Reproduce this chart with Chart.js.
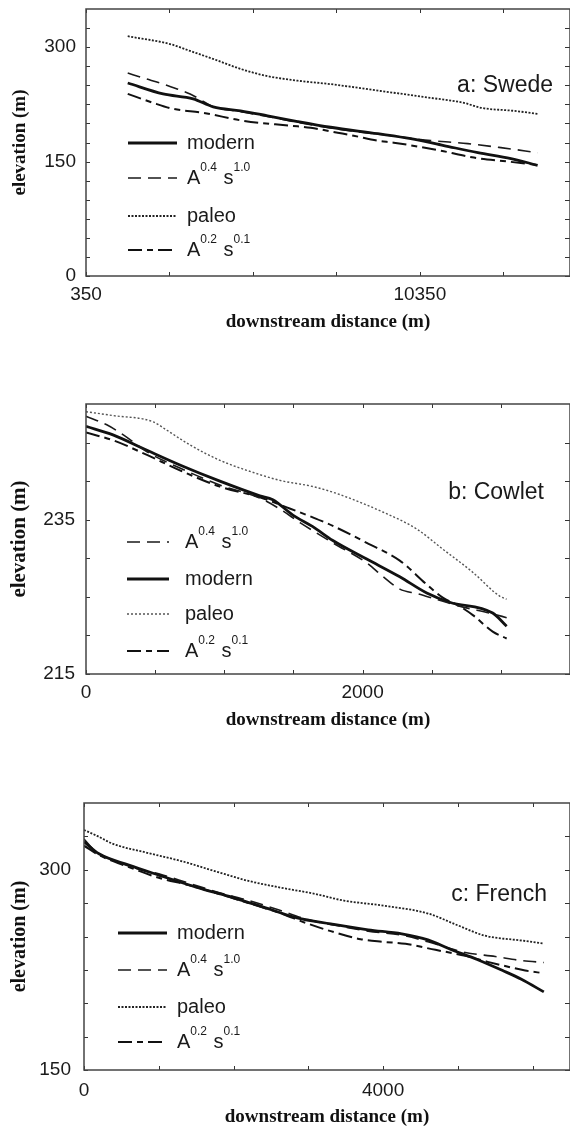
<!DOCTYPE html>
<html>
<head>
<meta charset="utf-8">
<script src="https://cdn.jsdelivr.net/npm/chart.js@4.4.1/dist/chart.umd.min.js"></script>
<style>
  html, body { margin: 0; padding: 0; background: #fff; width: 570px; height: 1127px; overflow: hidden; }
  canvas { position: absolute; left: 0; }
</style>
</head>
<body>
<canvas id="swede" width="570" height="340" style="top:0px"></canvas>
<canvas id="cowlet" width="570" height="360" style="top:370px"></canvas>
<canvas id="french" width="570" height="347" style="top:780px"></canvas>
<script>
// ---- a: Swede ----
const swedeXTicks = [350, 2850, 5350, 7850, 10350, 12850];
const swedeXLabels = [350, 10350];
const swedeYTicks = [0, 25, 50, 75, 100, 125, 150, 175, 200, 225, 250, 275, 300, 325];
const swedeYLabels = [0, 150, 300];

const swedeModernDist = [1600, 2660, 3560, 4160, 4980, 5790, 6690, 7680, 9090, 10080, 11070, 12090, 13080, 13880];
const swedeModernElev = [253, 238.7, 232.2, 221.7, 216.5, 210, 202.5, 195, 186.5, 180, 171, 161.7, 154, 145];
const swedeA04Dist = [1600, 2060, 2660, 3080, 3470, 4160, 4980, 5790, 6690, 7680, 8500, 9400, 10080, 10680, 11790, 12780, 13880];
const swedeA04Elev = [266, 259.6, 251.7, 245.2, 238.7, 222, 215.5, 209, 201.5, 194, 189, 184.5, 180.5, 177.5, 173.5, 168.3, 161.7];
const swedePaleoDist = [1600, 2870, 3470, 4160, 4980, 5790, 6690, 7680, 9180, 10680, 11670, 12180, 13170, 13880];
const swedePaleoElev = [314.3, 304, 295, 284.5, 271.5, 262, 256, 251.5, 242.5, 233.5, 227, 220.5, 216.5, 212.6];
const swedeA02Dist = [1600, 2360, 2960, 3860, 5060, 6480, 7080, 7890, 8370, 9090, 9570, 10980, 11970, 13000, 13880];
const swedeA02Elev = [238.7, 227, 219.1, 213.9, 203.5, 197, 194.3, 187.8, 183.9, 177.4, 174.8, 164.3, 155.2, 150, 145.5];

// ---- b: Cowlet ----
const cowletXTicks = [0, 500, 1000, 1500, 2000, 2500, 3000];
const cowletXLabels = [0, 2000];
const cowletYTicks = [215, 220, 225, 230, 235, 240, 245];
const cowletYLabels = [215, 235];

const cowletModernDist = [0, 195, 441, 679, 968, 1257, 1351, 1496, 1640, 1785, 2030, 2269, 2464, 2630, 2941, 3042];
const cowletModernElev = [247.1, 246.0, 244.0, 242.1, 240.0, 238.1, 237.6, 235.6, 234.1, 232.3, 229.9, 227.6, 225.5, 224.3, 222.9, 221.2];
const cowletA04Dist = [0, 150, 270, 441, 679, 968, 1257, 1400, 1550, 1785, 2030, 2150, 2269, 2400, 2530, 2700, 2941, 3042];
const cowletA04Elev = [248.4, 247.3, 246.0, 243.8, 241.7, 239.5, 237.8, 236.4, 234.6, 232.0, 229.4, 227.6, 226.0, 225.4, 224.7, 223.8, 222.8, 222.3];
const cowletPaleoDist = [0, 195, 484, 585, 751, 968, 1163, 1402, 1640, 1813, 2146, 2391, 2579, 2796, 2991, 3042];
const cowletPaleoElev = [249.0, 248.5, 247.7, 246.6, 244.7, 242.7, 241.4, 240.1, 239.3, 238.4, 236.0, 233.8, 231.2, 228.2, 225.1, 224.7];
const cowletA02Dist = [0, 195, 441, 679, 968, 1257, 1452, 1640, 1785, 2030, 2269, 2464, 2580, 2700, 2800, 2941, 3042];
const cowletA02Elev = [246.3, 245.3, 243.4, 241.4, 239.3, 237.9, 236.6, 235.3, 234.2, 232.0, 229.7, 226.6, 224.9, 223.8, 222.6, 220.5, 219.6];

// ---- c: French ----
const frenchXTicks = [0, 1000, 2000, 3000, 4000, 5000, 6000];
const frenchXLabels = [0, 4000];
const frenchYTicks = [150, 175, 200, 225, 250, 275, 300, 325];
const frenchYLabels = [150, 300];

const frenchModernDist = [0, 200, 600, 1000, 1500, 2000, 2400, 2850, 3300, 3800, 4250, 4600, 4900, 5250, 5600, 5850, 6150];
const frenchModernElev = [321, 312, 303.5, 296, 287, 279, 272, 264, 259.5, 255, 252, 247.5, 240.5, 233, 224.5, 218, 208.5];
const frenchA04Dist = [0, 150, 400, 700, 1000, 1400, 1800, 2200, 2600, 3000, 3400, 3800, 4250, 4600, 4900, 5100, 5500, 5850, 6150];
const frenchA04Elev = [323, 314, 307, 301, 297, 290, 283, 277, 270, 262.5, 258, 254, 251, 246, 241, 238, 235, 232, 230.5];
const frenchPaleoDist = [0, 174, 389, 845, 1288, 1731, 2187, 2630, 3073, 3476, 4012, 4603, 5006, 5355, 5851, 6146];
const frenchPaleoElev = [329.8, 325.4, 319.4, 312.7, 306.7, 299.3, 291.8, 286.6, 282.1, 276.9, 273.1, 267.2, 258.2, 250.7, 247.0, 244.8];
const frenchA02Dist = [0, 200, 600, 1000, 1400, 1800, 2200, 2600, 3000, 3300, 3700, 4000, 4300, 4700, 5100, 5400, 5700, 5900, 6150];
const frenchA02Elev = [318, 311, 302, 294, 288.5, 282, 275, 268, 259.5, 254, 248, 246, 244.5, 240, 235.5, 231, 227, 224.5, 222.5];

Chart.defaults.font.family = "'Liberation Sans', Arial, sans-serif";
Chart.defaults.color = '#1a1a1a';

const serif = "'Liberation Serif', 'Times New Roman', serif";

const lineStyles = {
  modern: { borderColor: '#111', borderWidth: 2.8, borderDash: [] },
  a04: { borderColor: '#1a1a1a', borderWidth: 1.6, borderDash: [13, 7] },
  paleo: { borderColor: '#222', borderWidth: 1.8, borderDash: [2, 1.5] },
  paleoLight: { borderColor: '#555', borderWidth: 1.4, borderDash: [2, 2] },
  a02: { borderColor: '#111', borderWidth: 2, borderDash: [14, 5, 6, 5] },
};

function pts(xs, ys) {
  return xs.map((x, i) => ({ x: x, y: ys[i] }));
}

// label like "A^0.4 s^1.0" -> normal text with raised superscripts
function drawLegendText(ctx, label, x, y) {
  const parts = label.split(/(\^[0-9.]+)/).filter(s => s.length);
  let cx = x;
  parts.forEach(part => {
    if (part[0] === '^') {
      ctx.font = '12px "Liberation Sans", Arial, sans-serif';
      ctx.fillText(part.slice(1), cx, y - 10);
      cx += ctx.measureText(part.slice(1)).width + 1;
    } else {
      ctx.font = '20px "Liberation Sans", Arial, sans-serif';
      ctx.fillText(part, cx, y);
      cx += ctx.measureText(part).width;
    }
  });
}

const frameAndLegend = {
  id: 'frameAndLegend',
  afterDatasetsDraw(chart, args, opts) {
    const ctx = chart.ctx;
    const a = chart.chartArea;
    const xs = chart.scales.x, ys = chart.scales.y;
    ctx.save();
    ctx.strokeStyle = '#333';
    ctx.lineWidth = 1;
    ctx.beginPath();
    xs.ticks.forEach(t => {
      const px = Math.round(xs.getPixelForValue(t.value)) + 0.5;
      ctx.moveTo(px, a.bottom); ctx.lineTo(px, a.bottom - 4);
      ctx.moveTo(px, a.top); ctx.lineTo(px, a.top + 4);
    });
    ys.ticks.forEach(t => {
      const py = Math.round(ys.getPixelForValue(t.value)) + 0.5;
      ctx.moveTo(a.left, py); ctx.lineTo(a.left + 4, py);
      ctx.moveTo(a.right, py); ctx.lineTo(a.right - 5, py);
    });
    ctx.stroke();

    ctx.strokeStyle = '#444';
    ctx.lineWidth = 1.5;
    ctx.strokeRect(a.left, a.top, a.right - a.left, a.bottom - a.top);

    // panel name
    ctx.fillStyle = '#1a1a1a';
    ctx.font = '23px "Liberation Sans", Arial, sans-serif';
    ctx.textAlign = 'right';
    ctx.textBaseline = 'middle';
    ctx.fillText(opts.name, opts.nameX, opts.nameY);

    // legend, in dataset order
    ctx.textAlign = 'left';
    chart.data.datasets.forEach((ds, i) => {
      const y = opts.rows[i];
      ctx.setLineDash(ds.borderDash || []);
      ctx.lineWidth = ds.borderWidth;
      ctx.strokeStyle = ds.borderColor;
      ctx.beginPath();
      ctx.moveTo(opts.lineX1, y);
      ctx.lineTo(opts.lineX2, y);
      ctx.stroke();
      ctx.setLineDash([]);
      drawLegendText(ctx, ds.label, opts.textX, y);
    });
    ctx.restore();
  }
};

function makePanel(id, p) {
  return new Chart(document.getElementById(id), {
    type: 'line',
    data: {
      datasets: p.series.map(s => Object.assign({
        label: s.label,
        data: pts(s.x, s.y),
        pointRadius: 0,
        fill: false,
        cubicInterpolationMode: 'monotone',
      }, lineStyles[s.kind]))
    },
    options: {
      responsive: false,
      animation: false,
      layout: { padding: { top: p.top, right: 0, bottom: 0, left: 0 } },
      plugins: {
        legend: { display: false },
        tooltip: { enabled: false },
        frameAndLegend: p.decor,
      },
      scales: {
        x: {
          type: 'linear',
          min: p.xMin,
          max: p.xMax,
          afterBuildTicks: s => { s.ticks = p.xTicks.map(v => ({ value: v })); },
          afterFit: s => {
            s.height = p.height - p.bottom;
            s.paddingLeft = 0; s.paddingRight = 0;
          },
          grid: { display: false, drawTicks: false },
          border: { display: false },
          ticks: {
            autoSkip: false, maxRotation: 0, padding: p.xPad,
            font: { size: 19 },
            callback: v => p.xLabels.includes(v) ? String(v) : '',
          },
          title: {
            display: true, text: 'downstream distance (m)', color: '#111',
            font: { family: serif, size: 19, weight: 'bold', lineHeight: 1 },
            padding: { top: 0, bottom: p.xTitlePad },
          },
        },
        y: {
          type: 'linear',
          min: p.yMin,
          max: p.yMax,
          afterBuildTicks: s => { s.ticks = p.yTicks.map(v => ({ value: v })); },
          afterFit: s => {
            s.width = p.left;
            s.paddingTop = 0; s.paddingBottom = 0;
          },
          grid: { display: false, drawTicks: false },
          border: { display: false },
          ticks: {
            autoSkip: false, padding: p.yPad,
            font: { size: 19 },
            callback: v => p.yLabels.includes(v) ? String(v) : '',
          },
          title: {
            display: true, text: 'elevation (m)', color: '#111',
            font: { family: serif, size: p.yTitleSize, weight: 'bold', lineHeight: 1 },
            padding: { top: 20 - p.yTitleSize / 2, bottom: 0 },
          },
        },
      },
    },
    plugins: [frameAndLegend],
  });
}

makePanel('swede', {
  height: 340, top: 9, bottom: 276, left: 86,
  xMin: 350, xMax: 14850, yMin: 0, yMax: 350,
  xTicks: swedeXTicks, xLabels: swedeXLabels, yTicks: swedeYTicks, yLabels: swedeYLabels,
  xPad: 7, yPad: 10, xTitlePad: 8.5, yTitleSize: 19,
  series: [
    { label: 'modern', kind: 'modern', x: swedeModernDist, y: swedeModernElev },
    { label: 'A^0.4 s^1.0', kind: 'a04', x: swedeA04Dist, y: swedeA04Elev },
    { label: 'paleo', kind: 'paleo', x: swedePaleoDist, y: swedePaleoElev },
    { label: 'A^0.2 s^0.1', kind: 'a02', x: swedeA02Dist, y: swedeA02Elev },
  ],
  decor: { name: 'a: Swede', nameX: 553, nameY: 86, lineX1: 128, lineX2: 177, textX: 187, rows: [143, 178, 216, 250] },
});

makePanel('cowlet', {
  height: 360, top: 34, bottom: 304, left: 86,
  xMin: 0, xMax: 3500, yMin: 215, yMax: 250,
  xTicks: cowletXTicks, xLabels: cowletXLabels, yTicks: cowletYTicks, yLabels: cowletYLabels,
  xPad: 7, yPad: 11, xTitlePad: 0.5, yTitleSize: 21,
  series: [
    { label: 'A^0.4 s^1.0', kind: 'a04', x: cowletA04Dist, y: cowletA04Elev },
    { label: 'modern', kind: 'modern', x: cowletModernDist, y: cowletModernElev },
    { label: 'paleo', kind: 'paleoLight', x: cowletPaleoDist, y: cowletPaleoElev },
    { label: 'A^0.2 s^0.1', kind: 'a02', x: cowletA02Dist, y: cowletA02Elev },
  ],
  decor: { name: 'b: Cowlet', nameX: 544, nameY: 123, lineX1: 127, lineX2: 169, textX: 185, rows: [172, 209, 244, 281] },
});

makePanel('french', {
  height: 347, top: 23, bottom: 290, left: 84,
  xMin: 0, xMax: 6500, yMin: 150, yMax: 350,
  xTicks: frenchXTicks, xLabels: frenchXLabels, yTicks: frenchYTicks, yLabels: frenchYLabels,
  xPad: 9, yPad: 13, xTitlePad: 0, yTitleSize: 20,
  series: [
    { label: 'modern', kind: 'modern', x: frenchModernDist, y: frenchModernElev },
    { label: 'A^0.4 s^1.0', kind: 'a04', x: frenchA04Dist, y: frenchA04Elev },
    { label: 'paleo', kind: 'paleo', x: frenchPaleoDist, y: frenchPaleoElev },
    { label: 'A^0.2 s^0.1', kind: 'a02', x: frenchA02Dist, y: frenchA02Elev },
  ],
  decor: { name: 'c: French', nameX: 547, nameY: 115, lineX1: 118, lineX2: 167, textX: 177, rows: [153, 190, 227, 262] },
});
</script>
</body>
</html>
